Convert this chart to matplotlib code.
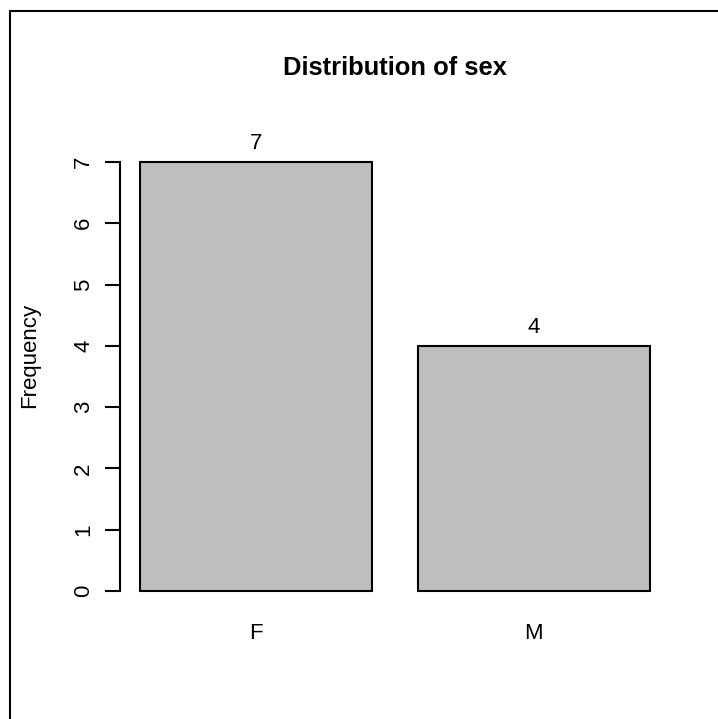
import matplotlib
matplotlib.use("Agg")
import matplotlib.pyplot as plt
import matplotlib.transforms as mtransforms
from matplotlib.lines import Line2D

# data
categories = ['F', 'M']
counts = [7, 4]

plt.rcParams['font.family'] = ['Liberation Sans', 'DejaVu Sans']

W, H = 718, 719
fig = plt.figure(figsize=(W / 100, H / 100), dpi=100)

def fx(px):
    return px / W

def fy(py):
    return 1 - py / H

# plot region in pixels (R style, 4% padding around bars)
left, right, top, bottom = 120, 670, 144.8, 608.2
ax = fig.add_axes([fx(left), fy(bottom), fx(right) - fx(left), fy(top) - fy(bottom)])

# R barplot geometry: width 1, space 0.2
width = 1.0
space = 0.2
lefts = [space + i * (width + space) for i in range(len(counts))]
centers = [l + width / 2 for l in lefts]

ax.bar(centers, counts, width=width, color='#bebebe', edgecolor='black',
       linewidth=1.5, clip_on=False)

x_lo, x_hi = lefts[0], lefts[-1] + width
pad_x = (x_hi - x_lo) * 0.04
ax.set_xlim(x_lo - pad_x, x_hi + pad_x)
ymax = max(counts)
ax.set_ylim(-ymax * 0.04, ymax * 1.04)

# count labels above bars
for c, v in zip(centers, counts):
    ax.annotate(str(v), (c, v), xytext=(0, 9.4), textcoords='offset points',
                ha='center', va='baseline', fontsize=16)

# axes styling
for s in ['top', 'right', 'bottom']:
    ax.spines[s].set_visible(False)
ax.spines['left'].set_bounds(0, ymax)
ax.spines['left'].set_linewidth(1.5)
ax.set_xticks([])
ax.set_yticks(range(0, ymax + 1))
ax.tick_params(axis='y', length=10.8, width=1.5, pad=7.7, labelsize=16)
for lab in ax.get_yticklabels():
    lab.set_rotation(90)
    lab.set_va('center')
ax.patch.set_alpha(0)

# category labels under bars
trans = mtransforms.blended_transform_factory(ax.transData, fig.transFigure)
for c, name in zip(centers, categories):
    ax.text(c, fy(639), name, transform=trans, ha='center', va='baseline', fontsize=16)

fig.text(fx(395), fy(75), 'Distribution of sex', ha='center', va='baseline',
         fontsize=18.4, fontweight='bold')
fig.text(fx(30), fy(355), 'Frequency', rotation=90, ha='center', va='center', fontsize=16)

# outer box (cut off at right/bottom in the reference)
fig.add_artist(Line2D([fx(10), fx(10), 1.0], [0.0, fy(11), fy(11)],
                      transform=fig.transFigure, color='black', linewidth=1.5))

fig.savefig('out.png', dpi=100)
